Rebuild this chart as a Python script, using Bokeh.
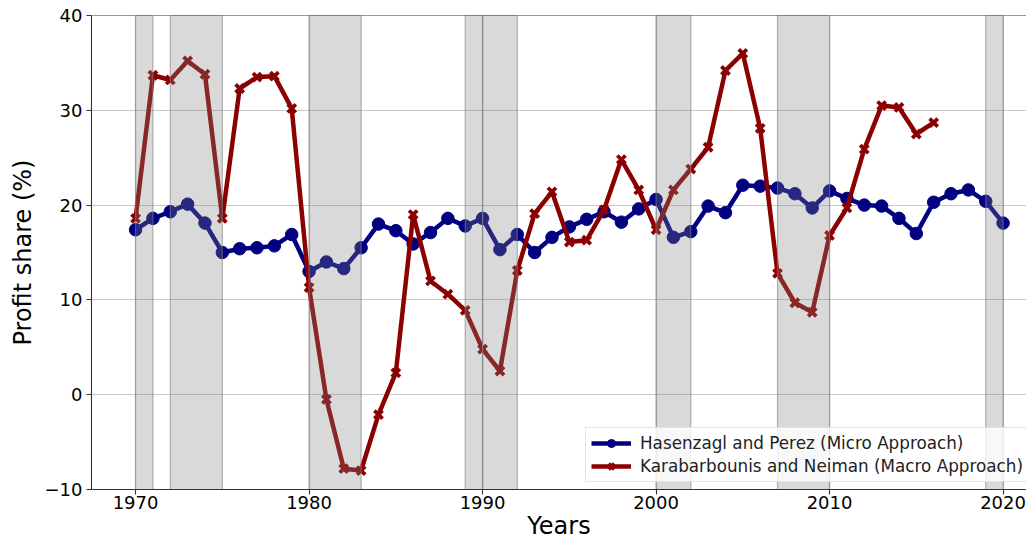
from bokeh.plotting import figure
from bokeh.models import Range1d, FixedTicker, Legend, LegendItem, Span, ColumnDataSource
from bokeh.embed import file_html
from bokeh.resources import INLINE

years_hp = list(range(1970, 2021))
share_hp = [17.4, 18.6, 19.3, 20.1, 18.1, 15.0, 15.4, 15.5, 15.7, 16.9,
            13.0, 14.0, 13.3, 15.5, 18.0, 17.3, 15.9, 17.1, 18.6, 17.8,
            18.6, 15.3, 16.9, 15.0, 16.6, 17.7, 18.5, 19.3, 18.2, 19.6,
            20.6, 16.6, 17.2, 19.9, 19.2, 22.1, 22.0, 21.8, 21.2, 19.7,
            21.5, 20.7, 20.0, 19.9, 18.6, 17.0, 20.3, 21.2, 21.6, 20.4,
            18.1]

years_kn = list(range(1970, 2017))
share_kn = [18.6, 33.7, 33.2, 35.2, 33.8, 18.6, 32.3, 33.5, 33.6, 30.2,
            11.3, -0.5, -7.8, -8.0, -2.1, 2.3, 19.0, 12.0, 10.6, 8.9,
            4.8, 2.5, 13.1, 19.1, 21.4, 16.1, 16.3, 19.5, 24.8, 21.6,
            17.4, 21.6, 23.8, 26.1, 34.2, 36.0, 28.1, 12.8, 9.7, 8.7,
            16.8, 19.7, 25.9, 30.5, 30.3, 27.5, 28.7]

recession_start = [1970, 1972, 1980, 1989, 1990, 2000, 2007, 2019]
recession_end = [1971, 1975, 1983, 1990, 1992, 2002, 2010, 2020]

x_ticks = [1970, 1980, 1990, 2000, 2010, 2020]
y_ticks = [-10, 0, 10, 20, 30, 40]

label_hp = "Hasenzagl and Perez (Micro Approach)"
label_kn = "Karabarbounis and Neiman (Macro Approach)"

FONT = "DejaVu Sans"

p = figure(width=1026, height=542, output_backend="svg", toolbar_location=None,
           x_range=Range1d(1967.46, 2021.35), y_range=Range1d(-10, 40),
           min_border_left=91, min_border_right=0, min_border_top=15, min_border_bottom=40)

p.outline_line_color = None
p.background_fill_color = "white"
p.border_fill_color = "white"

for ax in (p.xaxis, p.yaxis):
    ax.axis_line_color = "#333333"
    ax.axis_line_width = 1.1
    ax.major_tick_line_color = "#333333"
    ax.major_tick_line_width = 1.1
    ax.major_tick_out = 5
    ax.major_tick_in = 0
    ax.minor_tick_line_color = None
    ax.major_label_text_font = FONT
    ax.major_label_text_font_size = "18px"
    ax.major_label_text_color = "black"
    ax.axis_label_text_font = FONT
    ax.axis_label_text_font_size = "24px"
    ax.axis_label_text_font_style = "normal"
    ax.axis_label_text_color = "black"

p.xaxis.ticker = FixedTicker(ticks=x_ticks)
p.yaxis.ticker = FixedTicker(ticks=y_ticks)
p.yaxis.major_label_overrides = {t: (("\u2212" + str(-t)) if t < 0 else str(t)) for t in y_ticks}
p.xaxis.axis_label = "Years"
p.yaxis.axis_label = "Profit share (%)"
p.xaxis.major_label_standoff = 1
p.yaxis.major_label_standoff = 4
p.xaxis.axis_label_standoff = 0
p.yaxis.axis_label_standoff = 5

p.grid.grid_line_color = "#b0b0b0"
p.grid.grid_line_alpha = 0.7
p.grid.grid_line_width = 1.2

# top spine
p.add_layout(Span(location=40, dimension="width", line_color="#333333", line_width=1.1))

l1 = p.line(years_hp, share_hp, line_color="#000080", line_width=4.5)
s1 = p.scatter(years_hp, share_hp, marker="circle", size=12.5, fill_color="#000080",
               line_color="#000080")
l2 = p.line(years_kn, share_kn, line_color="#8B0000", line_width=4.5)
s2 = p.scatter(years_kn, share_kn, marker="x", size=11.5, line_color="#8B0000",
               line_width=3.8)

bands = ColumnDataSource(dict(left=recession_start, right=recession_end,
                              bottom=[-10] * len(recession_start),
                              top=[40] * len(recession_start)))
p.quad(left="left", right="right", bottom="bottom", top="top", source=bands,
       fill_color="gray", fill_alpha=0.3, line_color="gray", line_alpha=0.6, line_width=1.2)

legend = Legend(items=[LegendItem(label=label_hp, renderers=[l1, s1]),
                       LegendItem(label=label_kn, renderers=[l2, s2])],
                location=(494, 7))
legend.label_text_font = FONT
legend.label_text_font_size = "16.8px"
legend.label_text_color = "#222222"
legend.glyph_width = 40
legend.glyph_height = 20
legend.label_standoff = 9
legend.spacing = 3
legend.padding = 5
legend.margin = 0
legend.background_fill_alpha = 0.8
legend.border_line_color = "#cccccc"
legend.border_line_width = 1
p.add_layout(legend, "center")

open("out.html", "w").write(file_html(p, INLINE))
